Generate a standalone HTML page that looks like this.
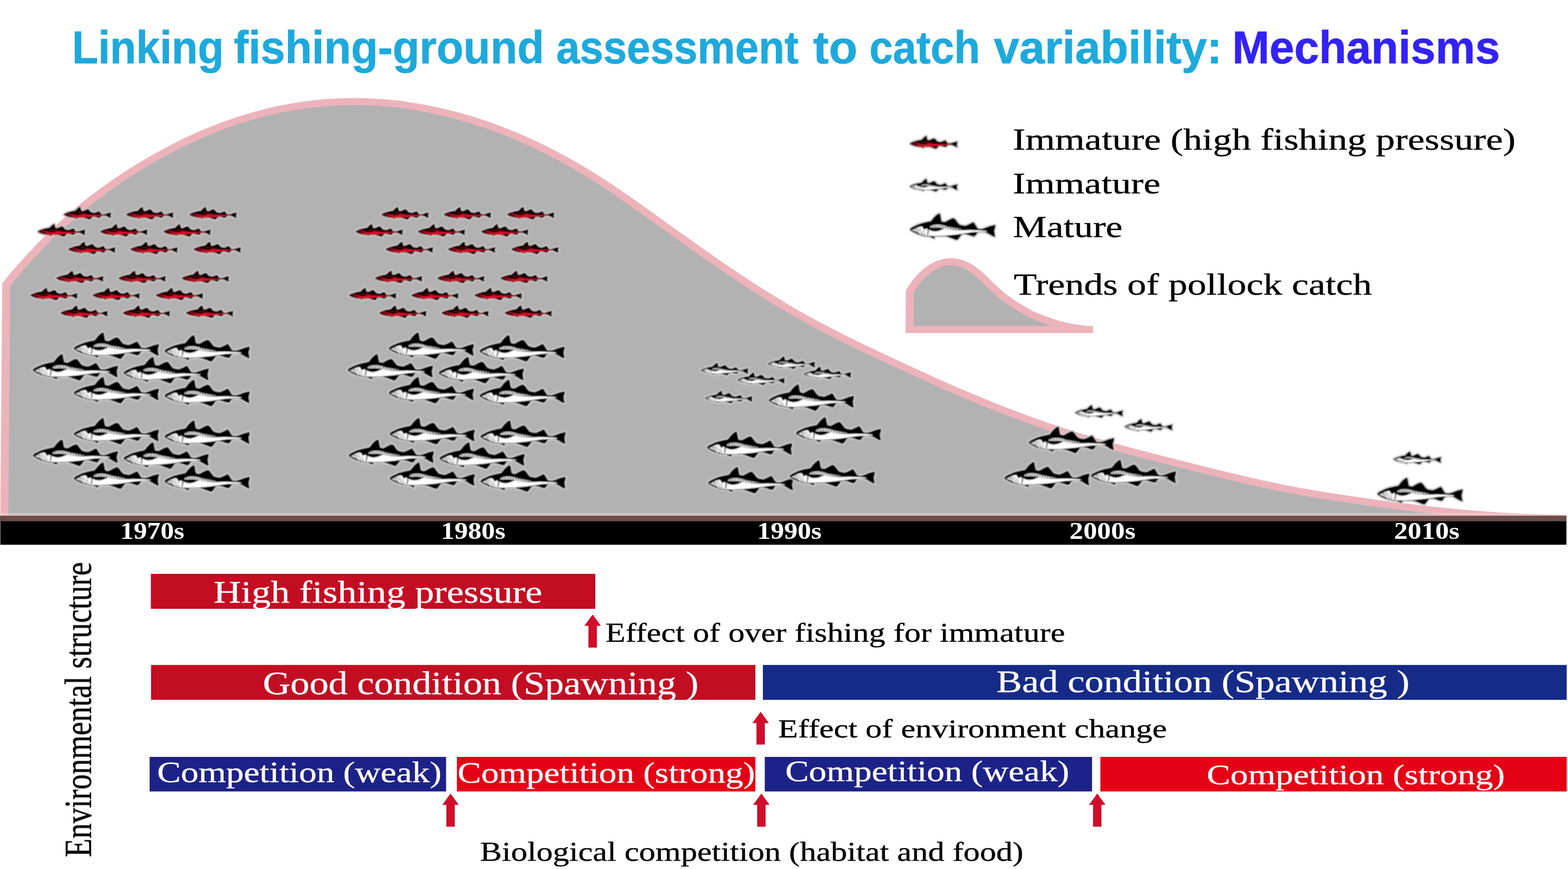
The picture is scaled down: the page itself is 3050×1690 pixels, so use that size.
<!DOCTYPE html>
<html lang="en"><head><meta charset="utf-8"><title>Linking fishing-ground assessment to catch variability: Mechanisms</title>
<style>
html,body{margin:0;padding:0;background:#fff;}
body{width:3050px;height:1690px;overflow:hidden;font-family:"Liberation Serif",serif;}
svg{display:block;position:absolute;left:0;top:0;}
</style></head><body>
<svg xmlns="http://www.w3.org/2000/svg" width="3050" height="1690" viewBox="0 0 3050 1690">
<defs>
<filter id="soft" x="-2%" y="-2%" width="104%" height="104%" filterUnits="objectBoundingBox"><feGaussianBlur stdDeviation="0.65"/></filter>
<filter id="softf" x="-2%" y="-2%" width="104%" height="104%" filterUnits="objectBoundingBox"><feGaussianBlur stdDeviation="0.85"/></filter>
<g id="fw"><path d="M0.0 31.1 L3.9 27.6 L10.1 24.5 L17.1 21.4 L24.1 19.2 L33.4 17.1 L40.4 15.8 L41.9 14.4 L46.6 8.2 L52.0 3.1 L56.3 0.4 L58.6 0.8 L59.4 3.5 L60.6 10.5 L61.7 15.5 L64.4 16.7 L68.3 17.1 L71.4 15.5 L77.6 12.0 L83.1 9.7 L86.2 9.9 L89.3 12.8 L93.2 18.2 L96.3 21.7 L100.2 23.3 L107.9 24.5 L111.0 23.3 L117.2 20.6 L122.7 17.6 L124.6 18.2 L127.3 22.1 L130.4 27.2 L132.4 29.9 L135.9 30.5 L140.5 30.5 L145.2 29.1 L155.3 25.2 L165.4 22.7 L166.5 23.7 L165.8 29.1 L164.2 33.8 L165.0 40.0 L166.1 46.2 L163.0 45.8 L157.6 43.1 L151.4 39.2 L146.0 36.9 L139.8 36.5 L132.8 37.3 L131.2 38.4 L128.1 43.5 L125.0 45.6 L120.3 44.6 L112.6 41.9 L106.4 40.6 L100.5 41.7 L97.0 47.0 L93.2 51.6 L91.2 52.6 L87.7 51.6 L80.0 48.5 L72.2 45.8 L68.3 44.8 L58.2 45.0 L50.5 45.4 L48.1 45.8 L47.7 50.1 L42.7 47.7 L38.0 45.4 L31.1 45.0 L24.1 43.5 L15.5 41.1 L8.5 38.0 L3.1 34.5 L0.4 32.2Z" fill="#000" stroke="#d4d4d4" stroke-opacity=".8" stroke-width="5.2" stroke-linejoin="round" paint-order="stroke" vector-effect="non-scaling-stroke"/><path d="M3.9 33.2 L10.1 30.0 L16.3 27.4 L21.0 25.9 L24.1 26.2 L26.4 29.9 L28.0 32.2 L31.1 30.5 L34.9 30.0 L37.3 32.2 L41.9 34.5 L48.9 35.7 L56.7 34.5 L62.9 31.8 L67.5 30.0 L73.8 31.1 L81.5 32.2 L97.0 33.2 L116.5 32.8 L135.9 33.4 L149.1 34.4 L149.5 35.9 L135.9 36.3 L120.3 37.3 L104.8 39.6 L89.3 41.7 L68.3 43.7 L48.1 44.5 L34.9 44.0 L24.1 42.3 L14.0 39.6 L6.2 35.7Z" fill="#fff"/><path d="M38.4 27.6 L42.7 23.8 L50.5 22.6 L58.2 22.6 L66.0 24.1 L73.8 26.4 L85.4 28.5 L97.0 30.5 L101.7 32.2 L81.5 32.1 L69.9 30.3 L64.4 28.7 L58.2 28.0 L50.5 27.8 L44.3 28.2Z" fill="#fff" fill-opacity=".92"/><path d="M3.9 33.2 L10.1 30.0 L16.3 27.4 L21.0 25.9 L24.1 26.2 L26.4 29.9 L28.0 32.2 L30.3 36.1 L31.8 41.5 L24.1 42.3 L14.0 39.6 L6.2 35.7Z" fill="#000" fill-opacity="0"/><path d="M7.0 31.4 L13.2 30.3 M11.6 33.0 L21.0 29.1 M10.1 36.9 L24.1 32.2 M17.1 40.0 L27.2 35.3 M22.5 41.5 L30.3 39.2" stroke="#000" stroke-width="2.1" stroke-dasharray="2.2 2.4" fill="none"/><path d="M42.7 25.6 L58.2 25.1 L69.9 27.2 L85.4 30.3 L100.2 31.8" stroke="#000" stroke-width="2.4" stroke-dasharray="2.2 3" fill="none"/><path d="M72.2 31.6 L89.3 33.5 L112.6 33.8" stroke="#000" stroke-width=".9" stroke-dasharray="1.5 3.5" fill="none" stroke-opacity=".6"/><path d="M31.1 24.5 L34.9 29.1 L36.1 35.3 L34.2 42.3 M1.9 33.6 L8.5 35.3 L14.0 37.8 L17.9 40.4" stroke="#000" stroke-width="2" fill="none"/></g>
<g id="fr"><path d="M0.0 31.1 L3.9 27.6 L10.1 24.5 L17.1 21.4 L24.1 19.2 L33.4 17.1 L40.4 15.8 L41.9 14.4 L46.6 8.2 L52.0 3.1 L56.3 0.4 L58.6 0.8 L59.4 3.5 L60.6 10.5 L61.7 15.5 L64.4 16.7 L68.3 17.1 L71.4 15.5 L77.6 12.0 L83.1 9.7 L86.2 9.9 L89.3 12.8 L93.2 18.2 L96.3 21.7 L100.2 23.3 L107.9 24.5 L111.0 23.3 L117.2 20.6 L122.7 17.6 L124.6 18.2 L127.3 22.1 L130.4 27.2 L132.4 29.9 L135.9 30.5 L140.5 30.5 L145.2 29.1 L155.3 25.2 L165.4 22.7 L166.5 23.7 L165.8 29.1 L164.2 33.8 L165.0 40.0 L166.1 46.2 L163.0 45.8 L157.6 43.1 L151.4 39.2 L146.0 36.9 L139.8 36.5 L132.8 37.3 L131.2 38.4 L128.1 43.5 L125.0 45.6 L120.3 44.6 L112.6 41.9 L106.4 40.6 L100.5 41.7 L97.0 47.0 L93.2 51.6 L91.2 52.6 L87.7 51.6 L80.0 48.5 L72.2 45.8 L68.3 44.8 L58.2 45.0 L50.5 45.4 L48.1 45.8 L47.7 50.1 L42.7 47.7 L38.0 45.4 L31.1 45.0 L24.1 43.5 L15.5 41.1 L8.5 38.0 L3.1 34.5 L0.4 32.2Z" fill="#000" stroke="#d4cccc" stroke-opacity=".8" stroke-width="5.2" stroke-linejoin="round" paint-order="stroke" vector-effect="non-scaling-stroke"/><path d="M3.9 33.2 L10.1 30.0 L16.3 27.4 L21.0 25.9 L24.1 26.2 L26.4 29.9 L28.0 32.2 L31.1 30.5 L34.9 30.0 L37.3 32.2 L41.9 34.5 L48.9 35.7 L56.7 34.5 L62.9 31.8 L67.5 30.0 L73.8 31.1 L81.5 32.2 L97.0 33.2 L116.5 32.8 L135.9 33.4 L149.1 34.4 L149.5 35.9 L135.9 36.3 L120.3 37.3 L104.8 39.6 L89.3 41.7 L68.3 43.7 L48.1 44.5 L34.9 44.0 L24.1 42.3 L14.0 39.6 L6.2 35.7Z" fill="#db0f2a"/><path d="M38.4 27.6 L42.7 23.8 L50.5 22.6 L58.2 22.6 L66.0 24.1 L73.8 26.4 L85.4 28.5 L97.0 30.5 L101.7 32.2 L81.5 32.1 L69.9 30.3 L64.4 28.7 L58.2 28.0 L50.5 27.8 L44.3 28.2Z" fill="#7c0a17" fill-opacity=".9"/><path d="M3.9 33.2 L10.1 30.0 L16.3 27.4 L21.0 25.9 L24.1 26.2 L26.4 29.9 L28.0 32.2 L30.3 36.1 L31.8 41.5 L24.1 42.3 L14.0 39.6 L6.2 35.7Z" fill="#3a0008" fill-opacity=".45"/><path d="M7.0 31.4 L13.2 30.3 M11.6 33.0 L21.0 29.1 M10.1 36.9 L24.1 32.2 M17.1 40.0 L27.2 35.3 M22.5 41.5 L30.3 39.2" stroke="#000" stroke-width="2.1" stroke-dasharray="2.2 2.4" fill="none"/><path d="M42.7 25.6 L58.2 25.1 L69.9 27.2 L85.4 30.3 L100.2 31.8" stroke="#000" stroke-width="2.4" stroke-dasharray="2.2 3" fill="none"/><path d="M72.2 31.6 L89.3 33.5 L112.6 33.8" stroke="#000" stroke-width=".9" stroke-dasharray="1.5 3.5" fill="none" stroke-opacity=".6"/><path d="M31.1 24.5 L34.9 29.1 L36.1 35.3 L34.2 42.3 M1.9 33.6 L8.5 35.3 L14.0 37.8 L17.9 40.4" stroke="#000" stroke-width="2" fill="none"/></g>
</defs>
<rect width="3050" height="1690" fill="#fff"/>
<g transform="scale(1.14 1)" stroke-width="13.6" stroke-linejoin="miter" stroke-linecap="butt">
<path d="M7.28 1008.00 L10.61 553.24 C14.69 547.71 23.70 534.52 35.09 520.08 C46.48 505.65 64.33 483.29 78.95 466.61 C93.57 449.94 108.19 434.55 122.81 420.04 C137.43 405.52 152.05 392.15 166.67 379.50 C181.29 366.85 195.91 355.21 210.53 344.14 C225.15 333.08 239.77 322.83 254.39 313.11 C269.01 303.39 283.63 294.31 298.25 285.82 C312.87 277.34 327.49 269.46 342.11 262.20 C356.73 254.94 371.35 248.29 385.96 242.26 C400.58 236.22 415.20 230.79 429.82 225.98 C444.44 221.16 459.06 216.96 473.68 213.37 C488.30 209.77 502.92 206.79 517.54 204.42 C532.16 202.04 546.78 200.29 561.40 199.12 C576.02 197.96 590.64 197.41 605.26 197.43 C619.88 197.46 634.50 198.08 649.12 199.28 C663.74 200.47 678.36 202.25 692.98 204.59 C707.60 206.93 722.22 209.84 736.84 213.30 C751.46 216.76 766.08 220.79 780.70 225.35 C795.32 229.90 809.94 235.01 824.56 240.65 C839.18 246.29 853.80 252.46 868.42 259.19 C883.04 265.92 897.66 273.19 912.28 281.03 C926.90 288.87 941.52 297.26 956.14 306.23 C970.76 315.21 985.38 324.77 1000.00 334.88 C1014.62 344.99 1029.24 355.82 1043.86 366.92 C1058.48 378.02 1073.10 389.74 1087.72 401.46 C1102.34 413.18 1116.96 425.30 1131.58 437.22 C1146.20 449.14 1160.82 461.18 1175.44 472.98 C1190.06 484.78 1204.68 496.52 1219.30 508.00 C1233.92 519.48 1248.54 530.83 1263.16 541.85 C1277.78 552.86 1292.40 563.68 1307.02 574.10 C1321.64 584.51 1336.26 594.64 1350.88 604.32 C1365.50 613.99 1380.12 623.21 1394.74 632.14 C1409.36 641.06 1423.98 649.52 1438.60 657.86 C1453.22 666.21 1467.84 674.20 1482.46 682.19 C1497.08 690.17 1511.70 698.00 1526.32 705.77 C1540.94 713.55 1555.56 721.26 1570.18 728.83 C1584.80 736.40 1599.42 743.88 1614.04 751.19 C1628.65 758.50 1643.27 765.69 1657.89 772.68 C1672.51 779.66 1687.13 786.51 1701.75 793.11 C1716.37 799.72 1730.99 806.15 1745.61 812.32 C1760.23 818.48 1774.85 824.43 1789.47 830.11 C1804.09 835.79 1818.71 841.18 1833.33 846.39 C1847.95 851.59 1862.57 856.52 1877.19 861.33 C1891.81 866.14 1906.43 870.72 1921.05 875.23 C1935.67 879.74 1950.29 884.07 1964.91 888.38 C1979.53 892.69 1994.15 896.87 2008.77 901.07 C2023.39 905.27 2038.01 909.44 2052.63 913.58 C2067.25 917.71 2081.87 921.89 2096.49 925.89 C2111.11 929.90 2125.73 933.87 2140.35 937.61 C2154.97 941.34 2169.59 944.95 2184.21 948.30 C2198.83 951.65 2213.45 954.75 2228.07 957.71 C2242.69 960.66 2257.31 963.39 2271.93 966.02 C2286.55 968.66 2301.17 971.12 2315.79 973.52 C2330.41 975.92 2345.03 978.22 2359.65 980.43 C2374.27 982.64 2388.89 984.77 2403.51 986.78 C2418.13 988.78 2432.75 990.69 2447.37 992.46 C2461.99 994.23 2476.61 995.89 2491.23 997.40 C2505.85 998.91 2520.47 1000.29 2535.09 1001.51 C2549.71 1002.73 2564.33 1003.81 2578.95 1004.70 C2593.57 1005.60 2608.19 1006.34 2622.81 1006.89 C2637.43 1007.44 2658.33 1007.80 2666.67 1007.99 C2675.00 1008.18 2671.78 1008.04 2672.81 1008.05 L2672.81 1008.00 Z" fill="#b2b2b2"/>
<path d="M2672.81 1008.00 L7.28 1008.00 L10.61 553.24 C14.69 547.71 23.70 534.52 35.09 520.08 C46.48 505.65 64.33 483.29 78.95 466.61 C93.57 449.94 108.19 434.55 122.81 420.04 C137.43 405.52 152.05 392.15 166.67 379.50 C181.29 366.85 195.91 355.21 210.53 344.14 C225.15 333.08 239.77 322.83 254.39 313.11 C269.01 303.39 283.63 294.31 298.25 285.82 C312.87 277.34 327.49 269.46 342.11 262.20 C356.73 254.94 371.35 248.29 385.96 242.26 C400.58 236.22 415.20 230.79 429.82 225.98 C444.44 221.16 459.06 216.96 473.68 213.37 C488.30 209.77 502.92 206.79 517.54 204.42 C532.16 202.04 546.78 200.29 561.40 199.12 C576.02 197.96 590.64 197.41 605.26 197.43 C619.88 197.46 634.50 198.08 649.12 199.28 C663.74 200.47 678.36 202.25 692.98 204.59 C707.60 206.93 722.22 209.84 736.84 213.30 C751.46 216.76 766.08 220.79 780.70 225.35 C795.32 229.90 809.94 235.01 824.56 240.65 C839.18 246.29 853.80 252.46 868.42 259.19 C883.04 265.92 897.66 273.19 912.28 281.03 C926.90 288.87 941.52 297.26 956.14 306.23 C970.76 315.21 985.38 324.77 1000.00 334.88 C1014.62 344.99 1029.24 355.82 1043.86 366.92 C1058.48 378.02 1073.10 389.74 1087.72 401.46 C1102.34 413.18 1116.96 425.30 1131.58 437.22 C1146.20 449.14 1160.82 461.18 1175.44 472.98 C1190.06 484.78 1204.68 496.52 1219.30 508.00 C1233.92 519.48 1248.54 530.83 1263.16 541.85 C1277.78 552.86 1292.40 563.68 1307.02 574.10 C1321.64 584.51 1336.26 594.64 1350.88 604.32 C1365.50 613.99 1380.12 623.21 1394.74 632.14 C1409.36 641.06 1423.98 649.52 1438.60 657.86 C1453.22 666.21 1467.84 674.20 1482.46 682.19 C1497.08 690.17 1511.70 698.00 1526.32 705.77 C1540.94 713.55 1555.56 721.26 1570.18 728.83 C1584.80 736.40 1599.42 743.88 1614.04 751.19 C1628.65 758.50 1643.27 765.69 1657.89 772.68 C1672.51 779.66 1687.13 786.51 1701.75 793.11 C1716.37 799.72 1730.99 806.15 1745.61 812.32 C1760.23 818.48 1774.85 824.43 1789.47 830.11 C1804.09 835.79 1818.71 841.18 1833.33 846.39 C1847.95 851.59 1862.57 856.52 1877.19 861.33 C1891.81 866.14 1906.43 870.72 1921.05 875.23 C1935.67 879.74 1950.29 884.07 1964.91 888.38 C1979.53 892.69 1994.15 896.87 2008.77 901.07 C2023.39 905.27 2038.01 909.44 2052.63 913.58 C2067.25 917.71 2081.87 921.89 2096.49 925.89 C2111.11 929.90 2125.73 933.87 2140.35 937.61 C2154.97 941.34 2169.59 944.95 2184.21 948.30 C2198.83 951.65 2213.45 954.75 2228.07 957.71 C2242.69 960.66 2257.31 963.39 2271.93 966.02 C2286.55 968.66 2301.17 971.12 2315.79 973.52 C2330.41 975.92 2345.03 978.22 2359.65 980.43 C2374.27 982.64 2388.89 984.77 2403.51 986.78 C2418.13 988.78 2432.75 990.69 2447.37 992.46 C2461.99 994.23 2476.61 995.89 2491.23 997.40 C2505.85 998.91 2520.47 1000.29 2535.09 1001.51 C2549.71 1002.73 2564.33 1003.81 2578.95 1004.70 C2593.57 1005.60 2608.19 1006.34 2622.81 1006.89 C2637.43 1007.44 2658.33 1007.80 2666.67 1007.99 C2675.00 1008.18 2671.78 1008.04 2672.81 1008.05" fill="none" stroke="#edb3ba"/>
<path d="M1551.93 640.90 L1552.28 566.85 C1552.76 565.95 1553.39 564.45 1555.16 561.45 C1556.92 558.44 1560.31 552.63 1562.89 548.82 C1565.46 545.00 1568.04 541.66 1570.62 538.56 C1573.19 535.45 1575.77 532.73 1578.35 530.19 C1580.92 527.65 1583.50 525.37 1586.08 523.30 C1588.65 521.23 1591.23 519.38 1593.81 517.76 C1596.38 516.13 1598.96 514.73 1601.54 513.56 C1604.11 512.38 1606.69 511.43 1609.27 510.70 C1611.84 509.97 1614.42 509.47 1617.00 509.18 C1619.58 508.90 1622.15 508.84 1624.73 508.99 C1627.31 509.13 1629.88 509.50 1632.46 510.07 C1635.04 510.64 1637.61 511.43 1640.19 512.41 C1642.77 513.38 1645.34 514.57 1647.92 515.94 C1650.50 517.32 1653.07 518.89 1655.65 520.67 C1658.23 522.45 1660.80 524.43 1663.38 526.62 C1665.96 528.82 1668.53 531.25 1671.11 533.83 C1673.69 536.42 1676.26 539.29 1678.84 542.13 C1681.42 544.97 1683.99 547.98 1686.57 550.88 C1689.15 553.77 1691.72 556.68 1694.30 559.48 C1696.88 562.28 1699.45 565.04 1702.03 567.65 C1704.61 570.27 1707.18 572.80 1709.76 575.16 C1712.34 577.53 1714.91 579.71 1717.49 581.83 C1720.07 583.94 1722.65 585.89 1725.22 587.84 C1727.80 589.80 1730.38 591.70 1732.95 593.58 C1735.53 595.45 1738.11 597.30 1740.68 599.08 C1743.26 600.86 1745.84 602.61 1748.41 604.27 C1750.99 605.93 1753.57 607.53 1756.14 609.03 C1758.72 610.54 1761.30 611.96 1763.87 613.29 C1766.45 614.62 1769.03 615.84 1771.60 617.02 C1774.18 618.20 1776.76 619.28 1779.33 620.36 C1781.91 621.44 1784.49 622.46 1787.06 623.49 C1789.64 624.52 1792.22 625.54 1794.79 626.53 C1797.37 627.53 1799.95 628.53 1802.52 629.44 C1805.10 630.34 1807.68 631.20 1810.25 631.97 C1812.83 632.74 1815.41 633.42 1817.98 634.06 C1820.56 634.71 1823.14 635.30 1825.71 635.86 C1828.29 636.42 1830.87 636.96 1833.45 637.44 C1836.02 637.93 1838.60 638.39 1841.18 638.79 C1843.75 639.19 1846.33 639.55 1848.91 639.84 C1851.48 640.14 1854.06 640.39 1856.64 640.56 C1859.21 640.74 1862.96 640.84 1864.37 640.90 C1865.77 640.96 1864.97 640.91 1865.09 640.91 L1865.09 640.90 Z" fill="#b2b2b2"/>
<path d="M1865.09 640.90 L1551.93 640.90 L1552.28 566.85 C1552.76 565.95 1553.39 564.45 1555.16 561.45 C1556.92 558.44 1560.31 552.63 1562.89 548.82 C1565.46 545.00 1568.04 541.66 1570.62 538.56 C1573.19 535.45 1575.77 532.73 1578.35 530.19 C1580.92 527.65 1583.50 525.37 1586.08 523.30 C1588.65 521.23 1591.23 519.38 1593.81 517.76 C1596.38 516.13 1598.96 514.73 1601.54 513.56 C1604.11 512.38 1606.69 511.43 1609.27 510.70 C1611.84 509.97 1614.42 509.47 1617.00 509.18 C1619.58 508.90 1622.15 508.84 1624.73 508.99 C1627.31 509.13 1629.88 509.50 1632.46 510.07 C1635.04 510.64 1637.61 511.43 1640.19 512.41 C1642.77 513.38 1645.34 514.57 1647.92 515.94 C1650.50 517.32 1653.07 518.89 1655.65 520.67 C1658.23 522.45 1660.80 524.43 1663.38 526.62 C1665.96 528.82 1668.53 531.25 1671.11 533.83 C1673.69 536.42 1676.26 539.29 1678.84 542.13 C1681.42 544.97 1683.99 547.98 1686.57 550.88 C1689.15 553.77 1691.72 556.68 1694.30 559.48 C1696.88 562.28 1699.45 565.04 1702.03 567.65 C1704.61 570.27 1707.18 572.80 1709.76 575.16 C1712.34 577.53 1714.91 579.71 1717.49 581.83 C1720.07 583.94 1722.65 585.89 1725.22 587.84 C1727.80 589.80 1730.38 591.70 1732.95 593.58 C1735.53 595.45 1738.11 597.30 1740.68 599.08 C1743.26 600.86 1745.84 602.61 1748.41 604.27 C1750.99 605.93 1753.57 607.53 1756.14 609.03 C1758.72 610.54 1761.30 611.96 1763.87 613.29 C1766.45 614.62 1769.03 615.84 1771.60 617.02 C1774.18 618.20 1776.76 619.28 1779.33 620.36 C1781.91 621.44 1784.49 622.46 1787.06 623.49 C1789.64 624.52 1792.22 625.54 1794.79 626.53 C1797.37 627.53 1799.95 628.53 1802.52 629.44 C1805.10 630.34 1807.68 631.20 1810.25 631.97 C1812.83 632.74 1815.41 633.42 1817.98 634.06 C1820.56 634.71 1823.14 635.30 1825.71 635.86 C1828.29 636.42 1830.87 636.96 1833.45 637.44 C1836.02 637.93 1838.60 638.39 1841.18 638.79 C1843.75 639.19 1846.33 639.55 1848.91 639.84 C1851.48 640.14 1854.06 640.39 1856.64 640.56 C1859.21 640.74 1862.96 640.84 1864.37 640.90 C1865.77 640.96 1864.97 640.91 1865.09 640.91" fill="none" stroke="#edb3ba"/>
</g>
<rect x="0" y="997.4" width="3047" height="4.2" fill="#fff" fill-opacity=".23"/>
<rect x="0" y="1003" width="3047" height="11" fill="#6a4f48"/>
<rect x="0.6" y="1013.7" width="3046.4" height="45.7" fill="#000"/>
<g filter="url(#softf)">
<use href="#fr" transform="translate(123.8 402.1) scale(0.5569 0.4771)"/>
<use href="#fr" transform="translate(245.0 402.1) scale(0.5569 0.4771)"/>
<use href="#fr" transform="translate(368.0 402.1) scale(0.5569 0.4771)"/>
<use href="#fr" transform="translate(73.5 435.3) scale(0.5569 0.4771)"/>
<use href="#fr" transform="translate(194.6 435.3) scale(0.5569 0.4771)"/>
<use href="#fr" transform="translate(317.6 435.3) scale(0.5569 0.4771)"/>
<use href="#fr" transform="translate(132.2 469.7) scale(0.5569 0.4771)"/>
<use href="#fr" transform="translate(253.3 469.7) scale(0.5569 0.4771)"/>
<use href="#fr" transform="translate(376.3 469.7) scale(0.5569 0.4771)"/>
<use href="#fr" transform="translate(108.9 526.0) scale(0.5569 0.4771)"/>
<use href="#fr" transform="translate(230.1 526.0) scale(0.5569 0.4771)"/>
<use href="#fr" transform="translate(353.1 526.0) scale(0.5569 0.4771)"/>
<use href="#fr" transform="translate(58.6 559.2) scale(0.5569 0.4771)"/>
<use href="#fr" transform="translate(179.7 559.2) scale(0.5569 0.4771)"/>
<use href="#fr" transform="translate(302.7 559.2) scale(0.5569 0.4771)"/>
<use href="#fr" transform="translate(117.3 593.6) scale(0.5569 0.4771)"/>
<use href="#fr" transform="translate(238.4 593.6) scale(0.5569 0.4771)"/>
<use href="#fr" transform="translate(361.4 593.6) scale(0.5569 0.4771)"/>
<use href="#fr" transform="translate(741.6 402.1) scale(0.5569 0.4771)"/>
<use href="#fr" transform="translate(862.8 402.1) scale(0.5569 0.4771)"/>
<use href="#fr" transform="translate(985.8 402.1) scale(0.5569 0.4771)"/>
<use href="#fr" transform="translate(691.3 435.3) scale(0.5569 0.4771)"/>
<use href="#fr" transform="translate(812.4 435.3) scale(0.5569 0.4771)"/>
<use href="#fr" transform="translate(935.4 435.3) scale(0.5569 0.4771)"/>
<use href="#fr" transform="translate(750.0 469.7) scale(0.5569 0.4771)"/>
<use href="#fr" transform="translate(871.1 469.7) scale(0.5569 0.4771)"/>
<use href="#fr" transform="translate(994.1 469.7) scale(0.5569 0.4771)"/>
<use href="#fr" transform="translate(728.9 526.0) scale(0.5569 0.4771)"/>
<use href="#fr" transform="translate(850.1 526.0) scale(0.5569 0.4771)"/>
<use href="#fr" transform="translate(973.1 526.0) scale(0.5569 0.4771)"/>
<use href="#fr" transform="translate(678.6 559.2) scale(0.5569 0.4771)"/>
<use href="#fr" transform="translate(799.7 559.2) scale(0.5569 0.4771)"/>
<use href="#fr" transform="translate(922.7 559.2) scale(0.5569 0.4771)"/>
<use href="#fr" transform="translate(737.3 593.6) scale(0.5569 0.4771)"/>
<use href="#fr" transform="translate(858.4 593.6) scale(0.5569 0.4771)"/>
<use href="#fr" transform="translate(981.4 593.6) scale(0.5569 0.4771)"/>
<use href="#fr" transform="translate(1769.8 264.3) scale(0.5569 0.4771)"/>
<use href="#fw" transform="translate(1363.1 705.2) scale(0.5569 0.4771)"/>
<use href="#fw" transform="translate(1493.0 692.6) scale(0.5569 0.4771)"/>
<use href="#fw" transform="translate(1434.0 724.1) scale(0.5569 0.4771)"/>
<use href="#fw" transform="translate(1563.2 712.6) scale(0.5569 0.4771)"/>
<use href="#fw" transform="translate(1371.1 759.5) scale(0.5569 0.4771)"/>
<use href="#fw" transform="translate(2091.6 787.5) scale(0.5569 0.4771)"/>
<use href="#fw" transform="translate(2187.9 814.7) scale(0.5569 0.4771)"/>
<use href="#fw" transform="translate(2710.6 878.0) scale(0.5569 0.4771)"/>
<use href="#fw" transform="translate(1769.8 347.6) scale(0.5569 0.4771)"/>
<use href="#fw" transform="translate(143.0 646.0)"/>
<use href="#fw" transform="translate(319.6 651.0)"/>
<use href="#fw" transform="translate(63.3 688.0)"/>
<use href="#fw" transform="translate(240.0 693.5)"/>
<use href="#fw" transform="translate(143.0 732.5)"/>
<use href="#fw" transform="translate(319.6 738.0)"/>
<use href="#fw" transform="translate(143.0 812.2)"/>
<use href="#fw" transform="translate(319.6 817.2)"/>
<use href="#fw" transform="translate(63.3 854.2)"/>
<use href="#fw" transform="translate(240.0 859.7)"/>
<use href="#fw" transform="translate(143.0 898.7)"/>
<use href="#fw" transform="translate(319.6 904.2)"/>
<use href="#fw" transform="translate(755.7 646.0)"/>
<use href="#fw" transform="translate(932.3 651.0)"/>
<use href="#fw" transform="translate(676.0 688.0)"/>
<use href="#fw" transform="translate(852.7 693.5)"/>
<use href="#fw" transform="translate(755.7 732.5)"/>
<use href="#fw" transform="translate(932.3 738.0)"/>
<use href="#fw" transform="translate(757.4 812.2)"/>
<use href="#fw" transform="translate(934.0 817.2)"/>
<use href="#fw" transform="translate(677.7 854.2)"/>
<use href="#fw" transform="translate(854.4 859.7)"/>
<use href="#fw" transform="translate(757.4 898.7)"/>
<use href="#fw" transform="translate(934.0 904.2)"/>
<use href="#fw" transform="translate(1494.9 746.8)"/>
<use href="#fw" transform="translate(1547.7 810.7)"/>
<use href="#fw" transform="translate(1374.7 838.7)"/>
<use href="#fw" transform="translate(1376.8 907.4)"/>
<use href="#fw" transform="translate(1535.5 894.4)"/>
<use href="#fw" transform="translate(2000.7 829.1)"/>
<use href="#fw" transform="translate(1953.1 897.9)"/>
<use href="#fw" transform="translate(2121.4 893.5)"/>
<use href="#fw" transform="translate(2678.9 928.8)"/>
<use href="#fw" transform="translate(1769.8 414.5)"/>
</g>
<g filter="url(#soft)">
<rect x="293.5" y="1116.0" width="864.5" height="68.0" fill="#c30d23"/>
<rect x="293.8" y="1293.2" width="1175.5" height="67.8" fill="#c30d23"/>
<rect x="1483.9" y="1293.2" width="1563.6" height="67.8" fill="#132c88"/>
<rect x="291.0" y="1472.0" width="576.7" height="67.2" fill="#1d2088"/>
<rect x="888.8" y="1472.0" width="580.5" height="67.2" fill="#e60012"/>
<rect x="1487.6" y="1472.0" width="636.6" height="67.2" fill="#1d2088"/>
<rect x="2140.4" y="1472.0" width="907.1" height="67.2" fill="#e60012"/>
<path d="M1152.8 1195.0 l16 22 h-7.8 V1259.5 h-16.4 V1217.0 h-7.8 Z" fill="#d0112c"/>
<path d="M1479.6 1384.2 l16 22 h-7.8 V1447.9 h-16.4 V1406.2 h-7.8 Z" fill="#d0112c"/>
<path d="M876.4 1543.2 l16 22 h-7.8 V1607.8 h-16.4 V1565.2 h-7.8 Z" fill="#d0112c"/>
<path d="M1481.0 1543.2 l16 22 h-7.8 V1607.8 h-16.4 V1565.2 h-7.8 Z" fill="#d0112c"/>
<path d="M2134.3 1543.2 l16 22 h-7.8 V1607.8 h-16.4 V1565.2 h-7.8 Z" fill="#d0112c"/>
<text transform="translate(1969.98 291.20) scale(1.2512 1)" font-family="Liberation Serif, serif" font-weight="normal" font-size="59.28" fill="#000" stroke="#000" stroke-width="0.4" stroke-linejoin="round">Immature (high fishing pressure)</text>
<text transform="translate(1969.99 375.70) scale(1.2732 1)" font-family="Liberation Serif, serif" font-weight="normal" font-size="58.06" fill="#000" stroke="#000" stroke-width="0.4" stroke-linejoin="round">Immature</text>
<text transform="translate(1970.25 461.00) scale(1.2628 1)" font-family="Liberation Serif, serif" font-weight="normal" font-size="58.51" fill="#000" stroke="#000" stroke-width="0.4" stroke-linejoin="round">Mature</text>
<text transform="translate(1971.75 572.60) scale(1.2624 1)" font-family="Liberation Serif, serif" font-weight="normal" font-size="58.51" fill="#000" stroke="#000" stroke-width="0.4" stroke-linejoin="round">Trends of pollock catch</text>
<text transform="translate(233.92 1047.50) scale(1.1277 1)" font-family="Liberation Serif, serif" font-weight="bold" font-size="46.29" fill="#fff" stroke="#fff" stroke-width="0.0" stroke-linejoin="round">1970s</text>
<text transform="translate(857.69 1047.50) scale(1.1362 1)" font-family="Liberation Serif, serif" font-weight="bold" font-size="46.29" fill="#fff" stroke="#fff" stroke-width="0.0" stroke-linejoin="round">1980s</text>
<text transform="translate(1472.70 1047.50) scale(1.1343 1)" font-family="Liberation Serif, serif" font-weight="bold" font-size="46.29" fill="#fff" stroke="#fff" stroke-width="0.0" stroke-linejoin="round">1990s</text>
<text transform="translate(2080.32 1047.50) scale(1.1623 1)" font-family="Liberation Serif, serif" font-weight="bold" font-size="46.29" fill="#fff" stroke="#fff" stroke-width="0.0" stroke-linejoin="round">2000s</text>
<text transform="translate(2711.53 1047.50) scale(1.1540 1)" font-family="Liberation Serif, serif" font-weight="bold" font-size="46.29" fill="#fff" stroke="#fff" stroke-width="0.0" stroke-linejoin="round">2010s</text>
<text transform="translate(415.14 1171.80) scale(1.2159 1)" font-family="Liberation Serif, serif" font-weight="normal" font-size="61.10" fill="#fff" stroke="#fff" stroke-width="0.4" stroke-linejoin="round">High fishing pressure</text>
<text transform="translate(1177.81 1247.60) scale(1.2239 1)" font-family="Liberation Serif, serif" font-weight="normal" font-size="51.96" fill="#000" stroke="#000" stroke-width="0.4" stroke-linejoin="round">Effect of over fishing for immature</text>
<text transform="translate(511.18 1349.50) scale(1.1908 1)" font-family="Liberation Serif, serif" font-weight="normal" font-size="62.36" fill="#fff" stroke="#fff" stroke-width="0.4" stroke-linejoin="round">Good condition (Spawning )</text>
<text transform="translate(1938.34 1346.00) scale(1.2111 1)" font-family="Liberation Serif, serif" font-weight="normal" font-size="61.41" fill="#fff" stroke="#fff" stroke-width="0.4" stroke-linejoin="round">Bad condition (Spawning )</text>
<text transform="translate(1513.51 1434.20) scale(1.2348 1)" font-family="Liberation Serif, serif" font-weight="normal" font-size="51.50" fill="#000" stroke="#000" stroke-width="0.4" stroke-linejoin="round">Effect of environment change</text>
<text transform="translate(305.75 1520.80) scale(1.2030 1)" font-family="Liberation Serif, serif" font-weight="normal" font-size="57.30" fill="#fff" stroke="#fff" stroke-width="0.4" stroke-linejoin="round">Competition (weak)</text>
<text transform="translate(890.05 1521.70) scale(1.2188 1)" font-family="Liberation Serif, serif" font-weight="normal" font-size="56.41" fill="#fff" stroke="#fff" stroke-width="0.4" stroke-linejoin="round">Competition (strong)</text>
<text transform="translate(1527.45 1518.70) scale(1.2175 1)" font-family="Liberation Serif, serif" font-weight="normal" font-size="56.56" fill="#fff" stroke="#fff" stroke-width="0.4" stroke-linejoin="round">Competition (weak)</text>
<text transform="translate(2347.35 1524.70) scale(1.2477 1)" font-family="Liberation Serif, serif" font-weight="normal" font-size="55.22" fill="#fff" stroke="#fff" stroke-width="0.4" stroke-linejoin="round">Competition (strong)</text>
<text transform="translate(933.81 1673.50) scale(1.2144 1)" font-family="Liberation Serif, serif" font-weight="normal" font-size="52.42" fill="#000" stroke="#000" stroke-width="0.4" stroke-linejoin="round">Biological competition (habitat and food)</text>
<text transform="translate(177.00 1666.82) rotate(-90) scale(0.7994 1)" font-family="Liberation Serif, serif" font-size="74.06" fill="#000" stroke="#000" stroke-width="0.6">Environmental structure</text>
</g>
<text y="122.80" font-family="Liberation Sans, sans-serif" font-weight="bold" font-size="88.18" stroke-width="0.8" stroke-linejoin="round"><tspan x="140.21" textLength="295.41" lengthAdjust="spacingAndGlyphs" fill="#1ea9dc" stroke="#1ea9dc">Linking</tspan> <tspan x="454.66" textLength="603.81" lengthAdjust="spacingAndGlyphs" fill="#1ea9dc" stroke="#1ea9dc">fishing-ground</tspan> <tspan x="1082.01" textLength="471.39" lengthAdjust="spacingAndGlyphs" fill="#1ea9dc" stroke="#1ea9dc">assessment</tspan> <tspan x="1581.80" textLength="85.98" lengthAdjust="spacingAndGlyphs" fill="#1ea9dc" stroke="#1ea9dc">to</tspan> <tspan x="1691.02" textLength="215.36" lengthAdjust="spacingAndGlyphs" fill="#1ea9dc" stroke="#1ea9dc">catch</tspan> <tspan x="1933.30" textLength="443.87" lengthAdjust="spacingAndGlyphs" fill="#1ea9dc" stroke="#1ea9dc">variability:</tspan> <tspan x="2396.98" textLength="520.74" lengthAdjust="spacingAndGlyphs" fill="#3322f6" stroke="#3322f6">Mechanisms</tspan></text>
</svg>
</body></html>
